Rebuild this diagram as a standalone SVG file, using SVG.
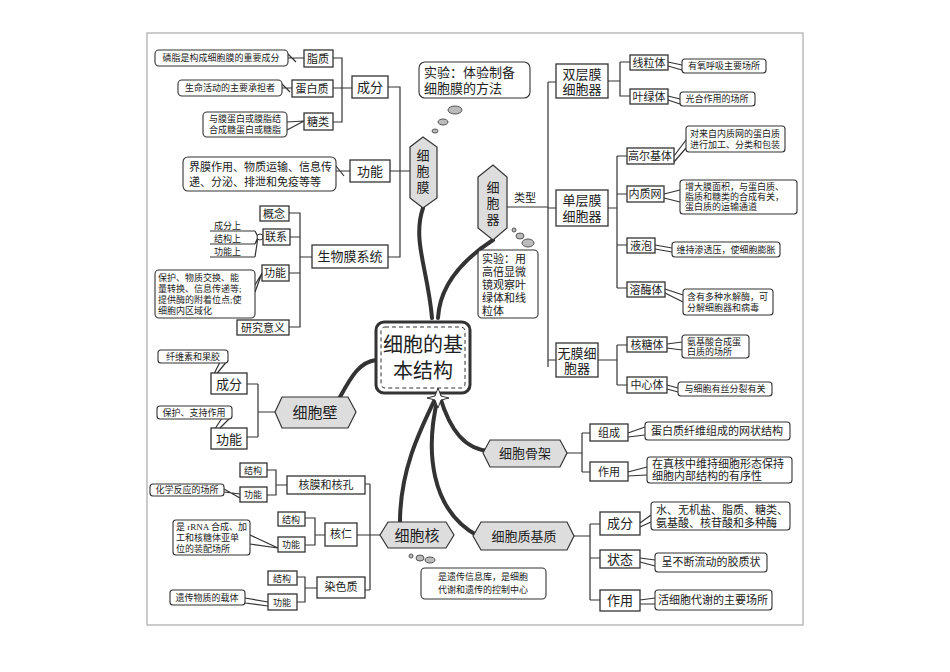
<svg xmlns="http://www.w3.org/2000/svg" width="950" height="672" viewBox="0 0 950 672">
<style>
.b{fill:#fff;stroke:#333;stroke-width:1.3}
.c{fill:#fff;stroke:#333;stroke-width:1.1}
.h{fill:#ddd;stroke:#333;stroke-width:1.2}
.l{fill:none;stroke:#333;stroke-width:1.2}
.k{fill:none;stroke:#333;stroke-width:4;stroke-linecap:round}
text{font-family:"Liberation Serif","Noto Sans CJK SC",serif;fill:#222}
.s{font-size:9px}
.m{font-size:11px}
.n{font-size:13px}
.g{font-size:15px}
.bub{fill:#bbb;stroke:#555;stroke-width:1}
</style>
<rect x="0" y="0" width="950" height="672" fill="#fff"/>
<rect x="147" y="33" width="656" height="592" fill="none" stroke="#aaa" stroke-width="1.2"/>

<g id="connectors">
<path class="k" d="M423,208 C412,240 428,270 432,318"/>
<path class="k" d="M493,240 C470,255 440,280 438,318"/>
<path class="k" d="M376,360 C360,362 352,375 340,397" stroke-width="5"/>
<path class="k" d="M436,397 C420,430 400,470 400,522"/>
<path class="k" d="M440,397 C450,430 465,450 490,451"/>
<path class="k" d="M438,397 C425,450 430,510 478,536"/>
<path class="l" d="M333,58 H342 V122 H333 M333,88 H352 M388,87 H400 V257 H388 M390,171 H410"/>
<path class="l" d="M289,213 H300 V327 H289 M290,237 H300 M289,273 H300 M300,257 H312"/>
<path class="l" d="M507,207 H548 M548,82 V367 M548,82 H556 M548,208 H556 M548,360 H556"/>
<path class="l" d="M608,81 H620 M620,62 V96 H630 M620,62 H630"/>
<path class="l" d="M608,208 H617 M617,156 V288 M617,156 H627 M617,194 H627 M617,245 H627 M617,288 H627"/>
<path class="l" d="M598,360 H617 M617,345 V385 M617,345 H627 M617,385 H627"/>
<path class="l" d="M258,384 V437 M247,384 H258 M247,437 H258 M258,412 H275"/>
<path class="l" d="M370,484 V590 M365,484 H370 M357,535 H380 M365,590 H370"/>
<path class="l" d="M267,470 H276 V495 H267 M276,485 H287"/>
<path class="l" d="M305,518 H315 V545 H305 M315,535 H325"/>
<path class="l" d="M297,577 H305 V602 H297 M305,588 H317"/>
<path class="l" d="M567,453 H582 M582,433 V472 M582,433 H590 M582,472 H590"/>
<path class="l" d="M574,536 H590 M590,524 V600 M590,524 H600 M590,558 H600 M590,600 H600"/>
<path class="l" d="M210,231 H255 M210,244 H255 M210,257 H255 M255,231 L258,237 L255,244 M255,257 L258,237"/>
<circle cx="260" cy="237" r="3" fill="#fff" stroke="#333"/>
<path class="l" d="M288,58 L304,58 M288,54 L296,62 M282,88 L292,88 M282,84 L290,92 M287,122 L304,121 M287,130 L304,121 M336,171 L350,171 M336,166 L344,176 M255,285 L262,273 M255,292 L262,273 M228,360 L214,377 M220,362 L211,380 M232,416 L214,434 M222,418 L211,435 M224,492 L240,494 M224,489 L240,498 M250,535 L278,548 M250,544 L278,548 M245,598 L268,602 M245,603 L268,606 M668,62 L682,65 M668,66 L682,70 M668,96 L680,99 M668,100 L680,104 M674,156 L686,140 M674,162 L686,148 M664,194 L680,190 M664,198 L680,202 M655,245 L672,248 M655,249 L672,252 M665,289 L683,295 M665,293 L683,302 M667,344 L682,342 M667,348 L682,350 M667,385 L678,388 M667,389 L678,392 M628,433 L645,427 M628,437 L645,435 M628,472 L647,467 M628,476 L647,475 M640,523 L651,515 M640,527 L651,522 M640,558 L655,560 M640,562 L655,566 M640,600 L655,598 M640,604 L655,604"/>
</g>

<g id="center"><rect x="376" y="322" width="94" height="71" rx="8" fill="#fff" stroke="#333" stroke-width="3"/><rect x="381" y="327" width="84" height="61" rx="4" fill="none" stroke="#333" stroke-dasharray="4 3"/>
<text x="423" y="352" text-anchor="middle" font-size="20">细胞的基</text><text x="423" y="378" text-anchor="middle" font-size="20">本结构</text>
<path d="M438,388 L441,396 L449,398 L441,400 L438,408 L435,400 L427,398 L435,396Z" fill="#fff" stroke="#333"/></g>

<g id="xibaomo"><path class="h" d="M410,147 L423,137 L437,147 V198 L423,208 L410,198Z"/><text class="n" x="423" y="160" text-anchor="middle">细</text><text class="n" x="423" y="176" text-anchor="middle">胞</text><text class="n" x="423" y="192" text-anchor="middle">膜</text></g>
<g id="chengfen1"><rect class="b" x="352" y="76" width="36" height="22"/><text class="n" x="370" y="92" text-anchor="middle">成分</text></g>
<g id="zhizhi"><rect class="b" x="304" y="50" width="29" height="17"/><text class="m" x="318" y="63" text-anchor="middle">脂质</text><rect class="c" x="155" y="50" width="133" height="16" rx="4"/><text class="s" x="221" y="61" text-anchor="middle">磷脂是构成细胞膜的重要成分</text></g>
<g id="dbz"><rect class="b" x="292" y="80" width="41" height="17"/><text class="m" x="312" y="93" text-anchor="middle">蛋白质</text><rect class="c" x="178" y="80" width="104" height="16" rx="4"/><text class="s" x="230" y="91" text-anchor="middle">生命活动的主要承担者</text></g>
<g id="tanglei"><rect class="b" x="304" y="113" width="29" height="17"/><text class="m" x="318" y="126" text-anchor="middle">糖类</text><rect class="c" x="203" y="112" width="84" height="25" rx="4"/><text class="s" x="245" y="122" text-anchor="middle">与膜蛋白或膜脂结</text><text class="s" x="245" y="133" text-anchor="middle">合成糖蛋白或糖脂</text></g>
<g id="gongneng1"><rect class="b" x="350" y="160" width="40" height="22"/><text class="n" x="370" y="176" text-anchor="middle">功能</text><rect class="c" x="183" y="157" width="153" height="34" rx="5"/><text class="m" x="189" y="171">界膜作用、物质运输、信息传</text><text class="m" x="189" y="186">递、分泌、排泄和免疫等等</text></g>
<g id="swmxt"><rect class="b" x="312" y="245" width="76" height="23"/><text class="n" x="350" y="261" text-anchor="middle">生物膜系统</text></g>
<g id="gainian"><rect class="b" x="260" y="206" width="29" height="15"/><text class="m" x="274" y="218" text-anchor="middle">概念</text></g>
<g id="lianxi"><rect class="b" x="263" y="229" width="27" height="16"/><text class="m" x="276" y="241" text-anchor="middle">联系</text><text class="s" x="214" y="229">成分上</text><text class="s" x="214" y="242">结构上</text><text class="s" x="214" y="255">功能上</text></g>
<g id="gongneng2"><rect class="b" x="262" y="265" width="27" height="16"/><text class="m" x="275" y="277" text-anchor="middle">功能</text><rect class="c" x="155" y="270" width="100" height="48" rx="4"/><text class="s" x="158" y="281">保护、物质交换、能</text><text class="s" x="158" y="292">量转换、信息传递等;</text><text class="s" x="158" y="303">提供酶的附着位点;使</text><text class="s" x="158" y="314">细胞内区域化</text></g>
<g id="yjyy"><rect class="b" x="237" y="320" width="52" height="15"/><text class="m" x="263" y="332" text-anchor="middle">研究意义</text></g>
<g id="exp1"><rect class="c" x="419" y="62" width="111" height="36" rx="6"/><text class="n" x="424" y="77">实验：体验制备</text><text class="n" x="424" y="93">细胞膜的方法</text><ellipse class="bub" cx="455" cy="110" rx="7" ry="4"/><ellipse class="bub" cx="443" cy="122" rx="5" ry="3"/><ellipse class="bub" cx="435" cy="131" rx="3" ry="2"/></g>

<g id="xibaoqi"><path class="h" d="M478,177 L493,165 L507,177 V228 L493,240 L478,228Z"/><text class="n" x="493" y="192" text-anchor="middle">细</text><text class="n" x="493" y="208" text-anchor="middle">胞</text><text class="n" x="493" y="224" text-anchor="middle">器</text><text class="m" x="514" y="202">类型</text></g>
<g id="exp2"><rect class="c" x="478" y="250" width="60" height="68" rx="4"/><text class="m" x="482" y="263">实验：用</text><text class="m" x="482" y="276">高倍显微</text><text class="m" x="482" y="289">镜观察叶</text><text class="m" x="482" y="302">绿体和线</text><text class="m" x="482" y="315">粒体</text><ellipse class="bub" cx="528" cy="243" rx="6" ry="4"/><ellipse class="bub" cx="520" cy="236" rx="4" ry="3"/><ellipse class="bub" cx="514" cy="230" rx="2" ry="2"/></g>
<g id="sc"><rect class="b" x="556" y="64" width="52" height="34"/><text class="n" x="582" y="79" text-anchor="middle">双层膜</text><text class="n" x="582" y="94" text-anchor="middle">细胞器</text></g>
<g id="xlt"><rect class="b" x="630" y="55" width="38" height="15"/><text class="m" x="649" y="67" text-anchor="middle">线粒体</text><rect class="c" x="682" y="59" width="84" height="14" rx="3"/><text class="s" x="724" y="69" text-anchor="middle">有氧呼吸主要场所</text></g>
<g id="ylt"><rect class="b" x="630" y="89" width="38" height="15"/><text class="m" x="649" y="101" text-anchor="middle">叶绿体</text><rect class="c" x="680" y="92" width="75" height="14" rx="3"/><text class="s" x="717" y="102" text-anchor="middle">光合作用的场所</text></g>
<g id="dc"><rect class="b" x="556" y="190" width="52" height="36"/><text class="n" x="582" y="205" text-anchor="middle">单层膜</text><text class="n" x="582" y="221" text-anchor="middle">细胞器</text></g>
<g id="gej"><rect class="b" x="627" y="148" width="47" height="16"/><text class="m" x="650" y="160" text-anchor="middle" font-size="10">高尔基体</text><rect class="c" x="686" y="126" width="99" height="26" rx="3"/><text class="s" x="735" y="137" text-anchor="middle">对来自内质网的蛋白质</text><text class="s" x="735" y="148" text-anchor="middle">进行加工、分类和包装</text></g>
<g id="nzw"><rect class="b" x="627" y="186" width="37" height="16"/><text class="m" x="645" y="198" text-anchor="middle">内质网</text><rect class="c" x="680" y="180" width="117" height="34" rx="3"/><text class="s" x="685" y="190">增大膜面积，与蛋白质、</text><text class="s" x="685" y="200">脂质和糖类的合成有关，</text><text class="s" x="685" y="210">蛋白质的运输通道</text></g>
<g id="yp"><rect class="b" x="627" y="238" width="28" height="15"/><text class="m" x="641" y="250" text-anchor="middle">液泡</text><rect class="c" x="672" y="242" width="108" height="15" rx="3"/><text class="s" x="726" y="253" text-anchor="middle">维持渗透压，使细胞膨胀</text></g>
<g id="rmt"><rect class="b" x="627" y="282" width="38" height="15"/><text class="m" x="646" y="294" text-anchor="middle">溶酶体</text><rect class="c" x="683" y="289" width="90" height="26" rx="3"/><text class="s" x="687" y="300">含有多种水解酶，可</text><text class="s" x="687" y="311">分解细胞器和病毒</text></g>
<g id="wm"><rect class="b" x="556" y="343" width="42" height="34"/><text class="n" x="577" y="358" text-anchor="middle">无膜细</text><text class="n" x="577" y="373" text-anchor="middle">胞器</text></g>
<g id="htt"><rect class="b" x="627" y="337" width="40" height="15"/><text class="m" x="647" y="349" text-anchor="middle">核糖体</text><rect class="c" x="682" y="335" width="67" height="23" rx="3"/><text class="s" x="687" y="345">氨基酸合成蛋</text><text class="s" x="687" y="355">白质的场所</text></g>
<g id="zxt"><rect class="b" x="627" y="377" width="40" height="16"/><text class="m" x="647" y="389" text-anchor="middle">中心体</text><rect class="c" x="678" y="382" width="94" height="14" rx="3"/><text class="s" x="725" y="392" text-anchor="middle">与细胞有丝分裂有关</text></g>

<g id="xibaobi"><path class="h" d="M282,397 H348 L356,412 L348,428 H282 L275,412Z"/><text class="g" x="315" y="418" text-anchor="middle">细胞壁</text></g>
<g id="bicf"><rect class="b" x="211" y="373" width="36" height="21"/><text class="n" x="229" y="389" text-anchor="middle">成分</text><rect class="c" x="158" y="350" width="70" height="13" rx="3"/><text class="s" x="193" y="360" text-anchor="middle">纤维素和果胶</text></g>
<g id="bign"><rect class="b" x="211" y="428" width="36" height="21"/><text class="n" x="229" y="444" text-anchor="middle">功能</text><rect class="c" x="157" y="406" width="75" height="13" rx="3"/><text class="s" x="194" y="416" text-anchor="middle">保护、支持作用</text></g>

<g id="xibaohe"><path class="h" d="M388,522 H446 L454,535 L446,548 H388 L380,535Z"/><text class="g" x="417" y="541" text-anchor="middle">细胞核</text><ellipse class="bub" cx="430" cy="560" rx="5" ry="3"/><ellipse class="bub" cx="420" cy="558" rx="4" ry="3"/><ellipse class="bub" cx="411" cy="556" rx="2" ry="2"/><rect class="c" x="421" y="568" width="125" height="31" rx="4"/><text class="s" x="483" y="580" text-anchor="middle">是遗传信息库，是细胞</text><text class="s" x="483" y="593" text-anchor="middle">代谢和遗传的控制中心</text></g>
<g id="hmhk"><rect class="b" x="287" y="476" width="78" height="18"/><text class="m" x="326" y="489" text-anchor="middle">核膜和核孔</text><rect class="b" x="240" y="463" width="27" height="14"/><text class="s" x="253" y="474" text-anchor="middle">结构</text><rect class="b" x="240" y="487" width="27" height="15"/><text class="s" x="253" y="498" text-anchor="middle">功能</text><rect class="c" x="150" y="484" width="74" height="12" rx="3"/><text class="s" x="187" y="493" text-anchor="middle">化学反应的场所</text></g>
<g id="hr"><rect class="b" x="325" y="523" width="32" height="23"/><text class="m" x="341" y="538" text-anchor="middle">核仁</text><rect class="b" x="278" y="512" width="27" height="14"/><text class="s" x="291" y="523" text-anchor="middle">结构</text><rect class="b" x="278" y="537" width="27" height="15"/><text class="s" x="291" y="548" text-anchor="middle">功能</text><rect class="c" x="173" y="520" width="77" height="35" rx="3"/><text class="s" x="176" y="530">是 rRNA 合成、加</text><text class="s" x="176" y="541">工和核糖体亚单</text><text class="s" x="176" y="552">位的装配场所</text></g>
<g id="rsz"><rect class="b" x="317" y="577" width="48" height="21"/><text class="m" x="341" y="591" text-anchor="middle">染色质</text><rect class="b" x="268" y="571" width="29" height="14"/><text class="s" x="282" y="582" text-anchor="middle">结构</text><rect class="b" x="268" y="594" width="29" height="16"/><text class="s" x="282" y="606" text-anchor="middle">功能</text><rect class="c" x="170" y="590" width="75" height="15" rx="3"/><text class="s" x="207" y="601" text-anchor="middle">遗传物质的载体</text></g>

<g id="gujia"><path class="h" d="M490,440 H560 L567,453 L560,467 H490 L483,453Z"/><text class="n" x="525" y="458" text-anchor="middle">细胞骨架</text></g>
<g id="zucheng"><rect class="b" x="590" y="424" width="38" height="17"/><text class="m" x="609" y="437" text-anchor="middle">组成</text><rect class="c" x="645" y="422" width="145" height="18" rx="3"/><text class="m" x="717" y="435" text-anchor="middle">蛋白质纤维组成的网状结构</text></g>
<g id="zuoyong1"><rect class="b" x="590" y="462" width="38" height="19"/><text class="m" x="609" y="476" text-anchor="middle">作用</text><rect class="c" x="647" y="457" width="145" height="26" rx="3"/><text class="m" x="652" y="468">在真核中维持细胞形态保持</text><text class="m" x="652" y="480">细胞内部结构的有序性</text></g>
<g id="jizhi"><path class="h" d="M481,522 H567 L574,536 L567,550 H481 L473,536Z"/><text class="n" x="524" y="541" text-anchor="middle">细胞质基质</text></g>
<g id="jzcf"><rect class="b" x="600" y="512" width="40" height="23"/><text class="n" x="620" y="528" text-anchor="middle">成分</text><rect class="c" x="651" y="502" width="139" height="28" rx="3"/><text class="m" x="656" y="514">水、无机盐、脂质、糖类、</text><text class="m" x="656" y="527">氨基酸、核苷酸和多种酶</text></g>
<g id="zt"><rect class="b" x="600" y="550" width="40" height="18"/><text class="n" x="620" y="564" text-anchor="middle">状态</text><rect class="c" x="655" y="553" width="112" height="19" rx="3"/><text class="m" x="711" y="566" text-anchor="middle">呈不断流动的胶质状</text></g>
<g id="zuoyong2"><rect class="b" x="600" y="590" width="40" height="21"/><text class="n" x="620" y="605" text-anchor="middle">作用</text><rect class="c" x="655" y="590" width="117" height="20" rx="3"/><text class="m" x="713" y="604" text-anchor="middle">活细胞代谢的主要场所</text></g>
</svg>
